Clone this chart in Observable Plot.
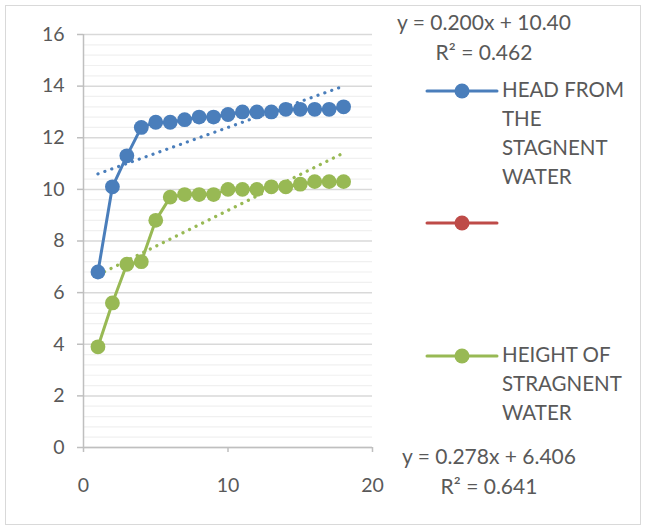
<!DOCTYPE html>
<html>
<head>
<meta charset="utf-8">
<script src="https://cdn.jsdelivr.net/npm/d3@7"></script>
<script src="https://cdn.jsdelivr.net/npm/@observablehq/plot@0.6"></script>
<style>
  html, body { margin: 0; padding: 0; background: #fff; }
  #wrap { position: relative; width: 648px; height: 529px; overflow: hidden; font-family: Lato, "Open Sans", sans-serif; color: #595959; }
  #frame { position: absolute; left: 5px; top: 5px; width: 636px; height: 520px; border: 1.5px solid #d9d9d9; box-sizing: border-box; }
  #chart { position: absolute; left: 0; top: 0; }
  .lbl { position: absolute; font-size: 20.5px; white-space: nowrap; line-height: 29px; }
  .eq { position: absolute; font-size: 21px; white-space: nowrap; line-height: 30px; text-align: center; }
  .sw { position: absolute; }
</style>
</head>
<body>
<div id="wrap"><div id="frame"></div><div id="chart"></div></div>
<script>
// ---- data ----
const xValues = [1,2,3,4,5,6,7,8,9,10,11,12,13,14,15,16,17,18];
const headFromStagnentWater = [6.8,10.1,11.3,12.4,12.6,12.6,12.7,12.8,12.8,12.9,13.0,13.0,13.0,13.1,13.1,13.1,13.1,13.2];
const heightOfStragnentWater = [3.9,5.6,7.1,7.2,8.8,9.7,9.8,9.8,9.8,10.0,10.0,10.0,10.1,10.1,10.2,10.3,10.3,10.3];
const seriesNames = ["HEAD FROM THE STAGNENT WATER", "", "HEIGHT OF STRAGNENT WATER"];
const seriesColors = ["#4a7ebb", "#be4b48", "#98b954"];
// trendline coefficients (from the equations printed on the chart)
const trendSlopes = [0.200, 0.278];
const trendIntercepts = [10.40, 6.406];
const trendRange = [1, 18];
const trendLabels = [["y = 0.200x + 10.40", "R² = 0.462"], ["y = 0.278x + 6.406", "R² = 0.641"]];
const yTicks = [0,2,4,6,8,10,12,14,16];
const xTicks = [0,10,20];

// ---- tables ----
const headData = xValues.map((x,i) => ({x, y: headFromStagnentWater[i]}));
const heightData = xValues.map((x,i) => ({x, y: heightOfStragnentWater[i]}));
const trend = (k) => trendRange.map(x => ({x, y: trendSlopes[k]*x + trendIntercepts[k]}));
const minorTicks = d3.range(0, 16.0001, 0.4).filter(v => Math.abs(v/2 - Math.round(v/2)) > 1e-6);

const plot = Plot.plot({
  width: 648, height: 529,
  marginLeft: 83, marginRight: 276, marginTop: 34, marginBottom: 82,
  style: {fontFamily: "Lato, 'Open Sans', sans-serif", fontSize: "19.5px", color: "#595959", background: "transparent"},
  x: {domain: [0, 20]},
  y: {domain: [0, 16]},
  marks: [
    Plot.ruleY(minorTicks, {stroke: "#f0f0f0", strokeWidth: 1.2}),
    Plot.ruleY(yTicks, {stroke: "#d9d9d9", strokeWidth: 1.5}),
    Plot.ruleX([0], {y1: 0, y2: 16, stroke: "#bfbfbf", strokeWidth: 1.5}),
    Plot.ruleY([0], {stroke: "#bfbfbf", strokeWidth: 1.5}),
    Plot.axisY({ticks: yTicks, tickSize: 6, tickPadding: 13, stroke: "#bfbfbf", strokeWidth: 1.5, fill: "#595959", label: null, tickFormat: d => d}),
    Plot.axisX({ticks: xTicks, tickSize: 5, tickPadding: 26, stroke: "#bfbfbf", strokeWidth: 1.5, fill: "#595959", label: null, tickFormat: d => d}),
    Plot.line(trend(0), {x: "x", y: "y", stroke: seriesColors[0], strokeWidth: 3.2, strokeDasharray: "0.1 7.2", strokeLinecap: "round"}),
    Plot.line(trend(1), {x: "x", y: "y", stroke: seriesColors[2], strokeWidth: 3.2, strokeDasharray: "0.1 7.2", strokeLinecap: "round"}),
    Plot.line(headData, {x: "x", y: "y", stroke: seriesColors[0], strokeWidth: 3}),
    Plot.dot(headData, {x: "x", y: "y", r: 7.4, fill: seriesColors[0]}),
    Plot.line(heightData, {x: "x", y: "y", stroke: seriesColors[2], strokeWidth: 3}),
    Plot.dot(heightData, {x: "x", y: "y", r: 7.4, fill: seriesColors[2]})
  ]
});
document.getElementById("chart").appendChild(plot);

// ---- legend (HTML overlay) ----
const wrap = document.getElementById("wrap");
const legendRows = [
  {y: 91, lines: ["HEAD FROM", "THE", "STAGNENT", "WATER"]},
  {y: 223, lines: []},
  {y: 356, lines: ["HEIGHT OF", "STRAGNENT", "WATER"]}
];
legendRows.forEach((row, i) => {
  const sw = d3.select(wrap).append("svg").attr("class", "sw")
    .attr("width", 80).attr("height", 20)
    .style("left", "424px").style("top", (row.y - 10) + "px");
  sw.append("line").attr("x1", 3).attr("x2", 73).attr("y1", 10).attr("y2", 10)
    .attr("stroke", seriesColors[i]).attr("stroke-width", 3).attr("stroke-linecap", "round");
  sw.append("circle").attr("cx", 38).attr("cy", 10).attr("r", 7.5).attr("fill", seriesColors[i]);
  if (row.lines.length) {
    d3.select(wrap).append("div").attr("class", "lbl")
      .style("left", "502px").style("top", (row.y - 16) + "px")
      .html(row.lines.join("<br>"));
  }
});

// ---- trendline equations ----
const eqPos = [{cx: 484, top: 7}, {cx: 489, top: 441}];
trendLabels.forEach((lines, k) => {
  d3.select(wrap).append("div").attr("class", "eq")
    .style("left", (eqPos[k].cx - 100) + "px").style("width", "200px")
    .style("top", eqPos[k].top + "px")
    .html(lines.join("<br>"));
});
</script>
</body>
</html>
